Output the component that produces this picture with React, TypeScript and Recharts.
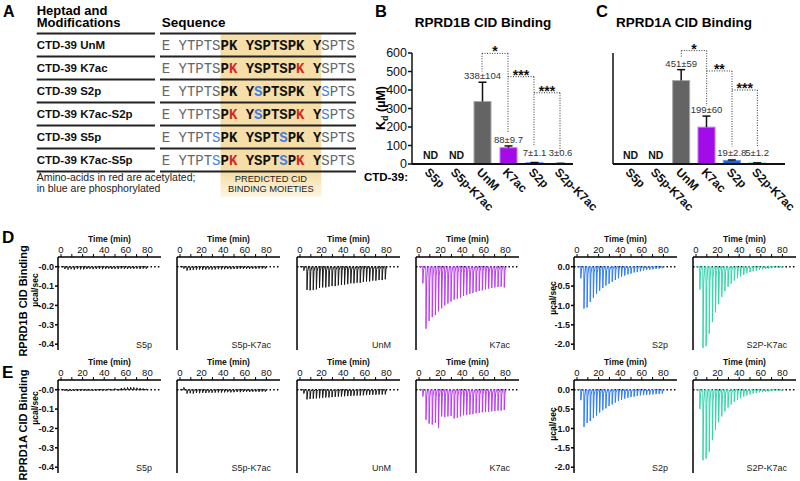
import React from 'react'
import { BarChart, Bar, XAxis, YAxis, ReferenceLine, LineChart, Line } from 'recharts'

const FONT = '"Liberation Sans", Arial, Helvetica, sans-serif'

// ---------- panel A: peptide table ----------
const SEQUENCE = 'E YTPTSPK YSPTSPK YSPTS'
const ROW_NAMES = ['CTD-39 UnM', 'CTD-39 K7ac', 'CTD-39 S2p', 'CTD-39 K7ac-S2p', 'CTD-39 S5p', 'CTD-39 K7ac-S5p']
const ROW_ACETYL = [[], [8, 16], [], [8, 16], [], [8, 16]]
const ROW_PHOSPHO = [[], [], [11, 19], [11, 19], [6, 14], [6, 14]]
const CID_MOTIF = [7, 18] // first and last residue of the predicted CID binding moiety

// ---------- panels B / C: Kd bars ----------
const CATEGORIES = ['S5p', 'S5p-K7ac', 'UnM', 'K7ac', 'S2p', 'S2p-K7ac']
const B_KD = [0, 0, 338, 88, 7, 3] // 0 = not determined
const B_ERR = [0, 0, 104, 9.7, 1.1, 0.6]
const B_LABELS = ['ND', 'ND', '338±104', '88±9.7', '7±1.1', '3±0.6']
const C_KD = [0, 0, 451, 199, 19, 5]
const C_ERR = [0, 0, 59, 60, 2.8, 1.2]
const C_LABELS = ['ND', 'ND', '451±59', '199±60', '19±2.8', '5±1.2']
const KD_TICKS = [0, 100, 200, 300, 400, 500, 600]

// significance brackets (Kd units): horizontal level, and where each leg stops
const B_BRACKETS = [
  { from: 'UnM', to: 'K7ac', stars: '*', top: 598, fromEnd: 500, toEnd: 168 },
  { from: 'K7ac', to: 'S2p', stars: '***', top: 472, fromEnd: 472, toEnd: 95 },
  { from: 'S2p', to: 'S2p-K7ac', stars: '***', top: 385, fromEnd: 385, toEnd: 68 },
]
const C_BRACKETS = [
  { from: 'UnM', to: 'K7ac', stars: '*', top: 613, fromEnd: 572, toEnd: 314 },
  { from: 'K7ac', to: 'S2p', stars: '**', top: 503, fromEnd: 503, toEnd: 95 },
  { from: 'S2p', to: 'S2p-K7ac', stars: '***', top: 400, fromEnd: 400, toEnd: 95 },
]

const BAR_FILL: Record<string, string> = { UnM: '#646464', K7ac: '#a20ce8', S2p: '#1f62e0', 'S2p-K7ac': '#17a57c' }
const BAR_EDGE: Record<string, string> = { UnM: '#a9a9a9', K7ac: '#c872f2', S2p: '#6a98f0', 'S2p-K7ac': '#4fc9a0' }

// ---------- panels D / E: ITC raw heats (µcal/sec peak of each injection) ----------
const INJECTION_TIMES = [3.4, 6.3, 9.2, 12.1, 15.0, 17.9, 20.8, 23.7, 26.6, 29.5, 32.4, 35.3, 38.2, 41.1,
  44.0, 46.9, 49.8, 52.7, 55.6, 58.5, 61.4, 64.3, 67.2, 70.1, 73.0, 75.9, 78.8]
const TIME_TICKS = [0, 10, 20, 30, 40, 50, 60, 70, 80]
const SMALL_TICKS = [-0.4, -0.3, -0.2, -0.1, 0]
const LARGE_TICKS = [-2, -1.5, -1, -0.5, 0]
const ITC_NAMES = ['S5p', 'S5p-K7ac', 'UnM', 'K7ac', 'S2p', 'S2P-K7ac']

const D_S5P = [-0.012, -0.015, -0.013, -0.015, -0.012, -0.014, -0.014, -0.012, -0.011, -0.013, -0.012, -0.011, -0.013, -0.012,
  -0.01, -0.012, -0.011, -0.012, -0.01, -0.011, -0.012, -0.01, -0.011, -0.01, -0.012, -0.01, -0.011]
const D_S5PK7AC = [-0.01, -0.02, -0.018, -0.017, -0.016, -0.015, -0.016, -0.015, -0.014, -0.015, -0.014, -0.013, -0.014, -0.013,
  -0.012, -0.013, -0.012, -0.012, -0.011, -0.012, -0.011, -0.011, -0.01, -0.011, -0.01, -0.01, -0.01]
const D_UNM = [-0.02, -0.12, -0.122, -0.12, -0.117, -0.11, -0.107, -0.107, -0.103, -0.1, -0.1, -0.096, -0.094, -0.093,
  -0.09, -0.086, -0.086, -0.083, -0.083, -0.079, -0.077, -0.076, -0.072, -0.072, -0.069, -0.069, -0.065]
const D_K7AC = [-0.086, -0.32, -0.28, -0.26, -0.25, -0.23, -0.215, -0.2, -0.19, -0.18, -0.17, -0.165, -0.16, -0.15,
  -0.146, -0.14, -0.136, -0.13, -0.125, -0.122, -0.117, -0.113, -0.11, -0.107, -0.105, -0.103, -0.107]
const D_S2P = [-0.3, -1.08, -1.05, -0.91, -0.8, -0.7, -0.62, -0.55, -0.49, -0.44, -0.39, -0.34, -0.3, -0.26,
  -0.23, -0.2, -0.18, -0.15, -0.14, -0.12, -0.1, -0.085, -0.076, -0.068, -0.06, -0.05, -0.04]
const D_S2PK7AC = [-0.59, -2.1, -2.05, -1.73, -1.43, -1.18, -0.97, -0.78, -0.63, -0.52, -0.44, -0.36, -0.3, -0.25,
  -0.21, -0.17, -0.14, -0.12, -0.1, -0.085, -0.07, -0.06, -0.05, -0.04, -0.035, -0.03, -0.025]

const E_S5P = [-0.006, -0.008, -0.007, -0.006, -0.007, -0.006, -0.005, -0.006, -0.005, -0.006, -0.005, -0.004, -0.005, -0.004,
  0.004, -0.004, 0.006, -0.003, 0.008, 0.01, 0.012, 0.013, 0.012, 0.01, 0.008, 0.006, 0.004]
const E_S5PK7AC = [0.012, -0.02, -0.018, -0.02, -0.017, -0.018, -0.016, -0.017, -0.015, -0.016, -0.015, -0.014, -0.015, -0.014,
  -0.013, -0.014, -0.013, -0.012, -0.013, -0.012, -0.011, -0.012, -0.011, -0.01, -0.011, -0.01, -0.01]
const E_UNM = [-0.02, -0.05, -0.048, -0.046, -0.045, -0.044, -0.042, -0.04, -0.04, -0.038, -0.037, -0.036, -0.035, -0.034,
  -0.033, -0.032, -0.031, -0.03, -0.03, -0.029, -0.028, -0.027, -0.026, -0.026, -0.025, -0.025, -0.024]
const E_K7AC = [-0.035, -0.155, -0.175, -0.18, -0.172, -0.198, -0.138, -0.142, -0.138, -0.135, -0.148, -0.145, -0.138, -0.132,
  -0.13, -0.128, -0.126, -0.122, -0.12, -0.117, -0.115, -0.115, -0.112, -0.11, -0.108, -0.108, -0.105]
const E_S2P = [-0.27, -0.96, -0.86, -0.81, -0.73, -0.67, -0.59, -0.53, -0.48, -0.42, -0.38, -0.33, -0.29, -0.26,
  -0.23, -0.21, -0.19, -0.18, -0.16, -0.15, -0.14, -0.13, -0.125, -0.12, -0.115, -0.11, -0.1]
const E_S2PK7AC = [-0.5, -1.82, -1.78, -1.6, -1.3, -1.04, -0.84, -0.69, -0.56, -0.46, -0.38, -0.31, -0.26, -0.22,
  -0.18, -0.15, -0.12, -0.1, -0.085, -0.07, -0.06, -0.05, -0.045, -0.04, -0.035, -0.03, -0.025]

const ITC_ROWS = [
  { top: 257, peaks: [D_S5P, D_S5PK7AC, D_UNM, D_K7AC, D_S2P, D_S2PK7AC] },
  { top: 380, peaks: [E_S5P, E_S5PK7AC, E_UNM, E_K7AC, E_S2P, E_S2PK7AC] },
]
const ITC_LEFTS = [58, 177, 297, 416, 574, 693]
const ITC_COLORS = ['#1a1a1a', '#1a1a1a', '#1a1a1a', '#b83cf0', '#2f7cf5', '#36d3ad']
const ITC_LARGE = [false, false, false, false, true, true]

// shape of one injection peak relative to its height
const PULSE = [[0, 0], [0.15, 1], [0.8, 0.2], [1.8, 0]]

function buildTrace(peaks: number[]) {
  const pts = [{ t: 0, v: 0 }]
  INJECTION_TIMES.forEach((t0, i) => PULSE.forEach(([dt, f]) => pts.push({ t: t0 + dt, v: peaks[i] * f })))
  return pts
}

const SlantTick = ({ x, y, payload }: any) => (
  <text x={x - 6} y={y + 9} transform={`rotate(45 ${x - 6} ${y + 9})`} fontSize={12} fontWeight="bold" fill="#111">
    {payload.value}
  </text>
)

const KdBar = (p: any) => {
  const { x, y, width, height, payload } = p
  const cx = x + width / 2
  const base = y + height
  if (!payload.kd) {
    return <text x={cx} y={base - 5} textAnchor="middle" fontSize={10.5} fontWeight="bold" fill="#111">{payload.label}</text>
  }
  const top = y - (payload.err / payload.kd) * height
  const ty = Math.min(top - 3, base - 8)
  return (
    <g>
      <rect x={x} y={y} width={width} height={height} fill={BAR_FILL[payload.cat]} stroke={BAR_EDGE[payload.cat]} />
      <line x1={cx} x2={cx} y1={y} y2={top} stroke="#111" strokeWidth={1.5} />
      <line x1={cx - 4} x2={cx + 4} y1={top} y2={top} stroke="#111" strokeWidth={1.5} />
      <text x={cx} y={ty} textAnchor="middle" fontSize={9.5} fill="#333">{payload.label}</text>
    </g>
  )
}

const DOTTED = { stroke: '#333', strokeWidth: 1, strokeDasharray: '1 1.5', ifOverflow: 'visible' as const }

function KdChart({ left, axisWidth, plotWidth, padding, kd, err, labels, brackets, tickLabels }: any) {
  const data = CATEGORIES.map((cat, i) => ({ cat, kd: kd[i], err: err[i], label: labels[i] }))
  return (
    <div style={{ position: 'absolute', left, top: 40 }}>
      <BarChart width={axisWidth + plotWidth + 40} height={190} data={data} margin={{ top: 13, right: 40, bottom: 0, left: 0 }}>
        <XAxis dataKey="cat" padding={padding} height={66} interval={0} tickSize={0} tickMargin={0} tickLine={false}
          axisLine={{ stroke: '#111', strokeWidth: 2 }} tick={<SlantTick />} />
        <YAxis type="number" domain={[0, 600]} ticks={KD_TICKS} interval={0} width={axisWidth} tickSize={4} tickMargin={1}
          axisLine={{ stroke: '#111', strokeWidth: 1.5 }} tickLine={{ stroke: '#111', strokeWidth: 1.5 }}
          tick={tickLabels ? { fontSize: 12.5, fill: '#111' } : false} />
        <Bar dataKey="kd" barSize={17} shape={KdBar} isAnimationActive={false} />
        {brackets.flatMap((b: any, i: number) => {
          const out = [
            <ReferenceLine key={`h${i}`} segment={[{ x: b.from, y: b.top }, { x: b.to, y: b.top }]} {...DOTTED}
              label={{ value: b.stars, position: 'top', offset: -3, fontSize: 14, fontWeight: 'bold', fill: '#111' }} />,
            <ReferenceLine key={`r${i}`} segment={[{ x: b.to, y: b.top }, { x: b.to, y: b.toEnd }]} {...DOTTED} />,
          ]
          if (b.fromEnd !== b.top) {
            out.push(<ReferenceLine key={`l${i}`} segment={[{ x: b.from, y: b.top }, { x: b.from, y: b.fromEnd }]} {...DOTTED} />)
          }
          return out
        })}
      </BarChart>
    </div>
  )
}

function ItcPanel({ left, top, peaks, color, large, showLabels }: any) {
  const data = buildTrace(peaks)
  const fmt = (v: number) => (v === 0 ? (large ? '0.0' : '-0.0') : v.toFixed(1))
  return (
    <div style={{ position: 'absolute', left: left - 45, top: top - 22 }}>
      <LineChart width={150} height={117} data={data} margin={{ top: 0, right: 2, bottom: 2, left: 0 }}>
        <XAxis type="number" dataKey="t" orientation="top" domain={[-2.8, 92.6]} ticks={TIME_TICKS} height={22}
          tickFormatter={(v: number) => (v % 20 === 0 ? String(v) : '')} tickSize={3} tickMargin={1}
          axisLine={{ stroke: '#000', strokeWidth: 1.5 }} tickLine={{ stroke: '#000' }} tick={{ fontSize: 9.5, fill: '#111' }}
          label={{ value: 'Time (min)', position: 'insideTop', offset: 1, fontSize: 8.5, fontWeight: 'bold', fill: '#111' }} />
        <YAxis type="number" domain={large ? [-2.15, 0.25] : [-0.43, 0.05]} ticks={large ? LARGE_TICKS : SMALL_TICKS}
          width={45} tickSize={3} tickMargin={1} tickFormatter={fmt} allowDataOverflow interval={0}
          axisLine={{ stroke: '#000', strokeWidth: 1.5 }} tickLine={{ stroke: '#000', strokeWidth: 1.5 }}
          tick={showLabels ? { fontSize: 9, fontWeight: 'bold', fill: '#111' } : false} />
        <ReferenceLine y={0} stroke="#000" strokeWidth={1.5} strokeDasharray="1.5 2.2" />
        <Line type="linear" dataKey="v" stroke={color} strokeWidth={1} dot={false} isAnimationActive={false} />
      </LineChart>
    </div>
  )
}

function Overlay() {
  const seqX = 161.7
  const cw = 8.4
  const rowCenters = ROW_NAMES.map((_, i) => 45 + 23 * i)
  const lineYs = [33.5, 56.5, 79.5, 102.5, 125.5, 148.5, 171.5]
  const hx = seqX + CID_MOTIF[0] * cw
  const hw = (CID_MOTIF[1] - CID_MOTIF[0] + 1) * cw
  return (
    <svg width={800} height={481} style={{ position: 'absolute', left: 0, top: 0, pointerEvents: 'none' }} fontFamily={FONT}>
      <defs>
        <linearGradient id="motif" x1="0" y1="0" x2="0" y2="1">
          <stop offset="0.86" stopColor="#f6dea8" />
          <stop offset="1" stopColor="#fdf6e6" />
        </linearGradient>
      </defs>
      {/* panel A */}
      <text x={3} y={17} fontSize={16} fontWeight="bold">A</text>
      <text x={36.7} y={14.6} fontSize={13} fontWeight="bold">Heptad and</text>
      <text x={36.7} y={27.4} fontSize={13} fontWeight="bold">Modifications</text>
      <text x={161.7} y={27.4} fontSize={13.5} fontWeight="bold">Sequence</text>
      <rect x={hx} y={34} width={hw} height={163} fill="url(#motif)" />
      {lineYs.map((y, i) => (
        <g key={i}>
          <line x1={36.7} x2={155} y1={y} y2={y} stroke="#222" strokeWidth={2} />
          <line x1={160} x2={356} y1={y} y2={y} stroke="#222" strokeWidth={2} />
        </g>
      ))}
      {ROW_NAMES.map((name, r) => (
        <g key={name}>
          <text x={36.7} y={rowCenters[r] + 4.2} fontSize={11.5} fontWeight="bold" fill="#111">{name}</text>
          <text y={rowCenters[r] + 4.8} fontSize={14} fontFamily='"Liberation Mono", "DejaVu Sans Mono", monospace'>
            {SEQUENCE.split('').map((ch, i) => {
              const inMotif = i >= CID_MOTIF[0] && i <= CID_MOTIF[1]
              const fill = ROW_ACETYL[r].includes(i) ? '#d42a20' : ROW_PHOSPHO[r].includes(i) ? '#3f7fe6' : inMotif ? '#111' : '#666'
              return (
                <tspan key={i} x={seqX + i * cw} fill={fill} fontWeight={inMotif ? 'bold' : 'normal'}>{ch === ' ' ? '\u00a0' : ch}</tspan>
              )
            })}
          </text>
        </g>
      ))}
      <text x={36.7} y={180.5} fontSize={10.5} fill="#222">Amino-acids in red are acetylated;</text>
      <text x={36.7} y={192} fontSize={10.5} fill="#222">in blue are phosphorylated</text>
      <text x={hx + hw / 2} y={181.7} fontSize={9.3} fill="#222" textAnchor="middle">PREDICTED CID</text>
      <text x={hx + hw / 2} y={191.7} fontSize={9.3} fill="#222" textAnchor="middle">BINDING MOIETIES</text>

      {/* panels B / C */}
      <text x={375} y={17} fontSize={16.5} fontWeight="bold">B</text>
      <text x={483} y={27} fontSize={13.5} fontWeight="bold" textAnchor="middle">RPRD1B CID Binding</text>
      <text x={596} y={17} fontSize={16.5} fontWeight="bold">C</text>
      <text x={684} y={27} fontSize={13.5} fontWeight="bold" textAnchor="middle">RPRD1A CID Binding</text>
      <text x={385} y={108} transform="rotate(-90 385 108)" fontSize={12.5} fontWeight="bold" textAnchor="middle">
        K<tspan fontSize={9} dy={3}>d</tspan><tspan dy={-3}> (µM)</tspan>
      </text>
      <text x={408} y={181} fontSize={11.5} fontWeight="bold" textAnchor="end">CTD-39:</text>

      {/* panels D / E */}
      <text x={2} y={243} fontSize={17} fontWeight="bold">D</text>
      <text x={2} y={377.7} fontSize={17} fontWeight="bold">E</text>
      <text x={27} y={301} transform="rotate(-90 27 301)" fontSize={11} fontWeight="bold" textAnchor="middle">RPRD1B CID Binding</text>
      <text x={27} y={425} transform="rotate(-90 27 425)" fontSize={11} fontWeight="bold" textAnchor="middle">RPRD1A CID Binding</text>
      {[[38, 290], [556, 298], [38, 408], [556, 424]].map(([x, y], i) => (
        <text key={i} x={x} y={y} transform={`rotate(-90 ${x} ${y})`} fontSize={8.5} fontWeight="bold" textAnchor="middle">µcal/sec</text>
      ))}
      {ITC_ROWS.map((row, r) =>
        ITC_NAMES.map((n, c) => (
          <text key={`${r}-${c}`} x={ITC_LEFTS[c] + 94} y={row.top + 91} fontSize={9} textAnchor="end" fill="#222">{n}</text>
        ))
      )}
    </svg>
  )
}

export default function App() {
  return (
    <div style={{ position: 'absolute', left: 0, top: 0, width: 800, height: 481, background: '#fff', fontFamily: FONT, overflow: 'hidden' }}>
      <KdChart left={352} axisWidth={60} plotWidth={161} padding={{ left: 5, right: 0 }} kd={B_KD} err={B_ERR}
        labels={B_LABELS} brackets={B_BRACKETS} tickLabels />
      <KdChart left={590} axisWidth={23} plotWidth={172} padding={{ left: 5, right: 15 }} kd={C_KD} err={C_ERR}
        labels={C_LABELS} brackets={C_BRACKETS} tickLabels={false} />
      {ITC_ROWS.map((row, r) =>
        row.peaks.map((peaks, c) => (
          <ItcPanel key={`${r}-${c}`} left={ITC_LEFTS[c]} top={row.top} peaks={peaks} color={ITC_COLORS[c]}
            large={ITC_LARGE[c]} showLabels={c === 0 || c === 4} />
        ))
      )}
      <Overlay />
    </div>
  )
}
